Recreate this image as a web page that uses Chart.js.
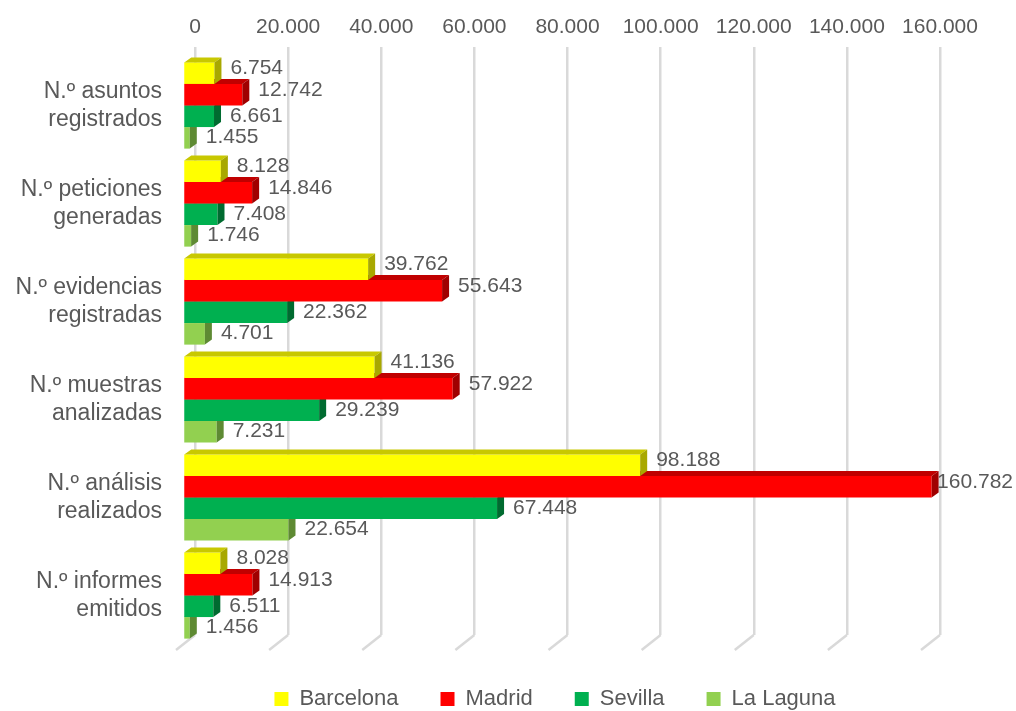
<!DOCTYPE html>
<html><head><meta charset="utf-8">
<script src="https://cdn.jsdelivr.net/npm/chart.js@4"></script>
<style>html,body{margin:0;padding:0;background:#fff;}</style>
</head><body>
<canvas id="c" width="1016" height="711"></canvas>
<script>
const categories = [
  ['N.º asuntos', 'registrados'],
  ['N.º peticiones', 'generadas'],
  ['N.º evidencias', 'registradas'],
  ['N.º muestras', 'analizadas'],
  ['N.º análisis', 'realizados'],
  ['N.º informes', 'emitidos']
];
const seriesNames = ['Barcelona', 'Madrid', 'Sevilla', 'La Laguna'];
const barcelona = [6754, 8128, 39762, 41136, 98188, 8028];
const madrid = [12742, 14846, 55643, 57922, 160782, 14913];
const sevilla = [6661, 7408, 22362, 29239, 67448, 6511];
const laLaguna = [1455, 1746, 4701, 7231, 22654, 1456];
const axisMin = 0, axisMax = 160000, axisStep = 20000;

const frontColors = ['#FFFF00', '#FF0000', '#00B050', '#92D050'];
const topColors = ['#C8C800', '#C00000', '#00853C', '#74A83E'];
const sideColors = ['#A8A800', '#A00000', '#006B30', '#5E8A33'];
const labelDy = [-5, -5, 0, -1];
const textColor = '#595959';
const FONT = "'Liberation Sans', Arial, sans-serif";

function fmt(v) { return String(Math.round(v)).replace(/\B(?=(\d{3})+(?!\d))/g, '.'); }

const shiftX = -12, shiftY = 9.5, depthX = 7, depthY = 5;

const threeD = {
  id: 'threeD',
  afterLayout(chart) {
    const lg = chart.legend;
    if (!lg) return;
    const dy = 646 - lg.top;
    lg.top += dy; lg.bottom += dy;
    lg.left += 80; lg.right += 80;
  },
  beforeDatasetsDraw(chart) {
    const ctx = chart.ctx, xs = chart.scales.x, bottom = chart.chartArea.bottom;
    ctx.save();
    ctx.strokeStyle = '#D9D9D9';
    ctx.lineWidth = 2.5;
    xs.ticks.forEach(t => {
      const px = xs.getPixelForValue(t.value);
      ctx.beginPath();
      ctx.moveTo(px, bottom);
      ctx.lineTo(px - 19, bottom + 15);
      ctx.stroke();
    });
    ctx.restore();
  },
  beforeDatasetDraw(chart) {
    chart.ctx.save();
    chart.ctx.translate(shiftX, shiftY);
  },
  afterDatasetDraw(chart, args) {
    const ctx = chart.ctx;
    const i = args.index;
    args.meta.data.forEach(el => {
      const p = el.getProps(['x', 'y', 'base', 'height'], true);
      const top = p.y - p.height / 2, bot = p.y + p.height / 2;
      ctx.fillStyle = topColors[i];
      ctx.beginPath();
      ctx.moveTo(p.base, top);
      ctx.lineTo(p.base + depthX, top - depthY);
      ctx.lineTo(p.x + depthX, top - depthY);
      ctx.lineTo(p.x, top);
      ctx.closePath();
      ctx.fill();
      ctx.fillStyle = sideColors[i];
      ctx.beginPath();
      ctx.moveTo(p.x, top);
      ctx.lineTo(p.x + depthX, top - depthY);
      ctx.lineTo(p.x + depthX, bot - depthY);
      ctx.lineTo(p.x, bot);
      ctx.closePath();
      ctx.fill();
    });
    ctx.restore();
  },
  afterDatasetsDraw(chart) {
    const ctx = chart.ctx;
    ctx.save();
    ctx.font = '21px ' + FONT;
    ctx.fillStyle = textColor;
    ctx.textBaseline = 'middle';
    ctx.textAlign = 'left';
    chart.data.datasets.forEach((ds, i) => {
      const meta = chart.getDatasetMeta(i);
      meta.data.forEach((el, j) => {
        const p = el.getProps(['x', 'y'], true);
        const txt = fmt(ds.data[j]);
        const w = ctx.measureText(txt).width;
        let tx = p.x + shiftX + depthX + 9;
        tx = Math.min(tx, chart.width - 3 - w);
        ctx.fillText(txt, tx, p.y + shiftY + labelDy[i]);
      });
    });
    ctx.restore();
  }
};

const allSeries = [barcelona, madrid, sevilla, laLaguna];
new Chart(document.getElementById('c'), {
  type: 'bar',
  data: {
    labels: categories,
    datasets: allSeries.map((d, i) => ({
      label: seriesNames[i],
      data: d,
      backgroundColor: frontColors[i],
      borderWidth: 0,
      clip: false,
      categoryPercentage: 0.88,
      barPercentage: 1.0
    }))
  },
  options: {
    indexAxis: 'y',
    responsive: false,
    devicePixelRatio: 1,
    animation: false,
    layout: { padding: { left: 10, right: 76, top: 0, bottom: 2 } },
    scales: {
      x: {
        position: 'top',
        min: axisMin, max: axisMax,
        ticks: { stepSize: axisStep, callback: v => fmt(v), color: textColor, font: { family: FONT, size: 21 }, padding: 7, maxRotation: 0 },
        grid: { color: '#D9D9D9', lineWidth: 2.5, drawTicks: false },
        border: { display: false },
        afterFit(s) { s.height = 47; s.paddingLeft = 0; s.paddingRight = 0; }
      },
      y: {
        ticks: { color: textColor, font: { family: FONT, size: 23, lineHeight: 1.217 }, padding: 33, labelOffset: 9.5 },
        grid: { display: false, drawTicks: false },
        border: { display: false },
        afterFit(s) { s.width = 185; s.paddingTop = 0; s.paddingBottom = 0; }
      }
    },
    plugins: {
      legend: {
        position: 'bottom',
        labels: { boxWidth: 14, boxHeight: 14, padding: 42, color: textColor, font: { family: FONT, size: 22 } }
      },
      tooltip: { enabled: false }
    }
  },
  plugins: [threeD]
});
</script>
</body></html>
